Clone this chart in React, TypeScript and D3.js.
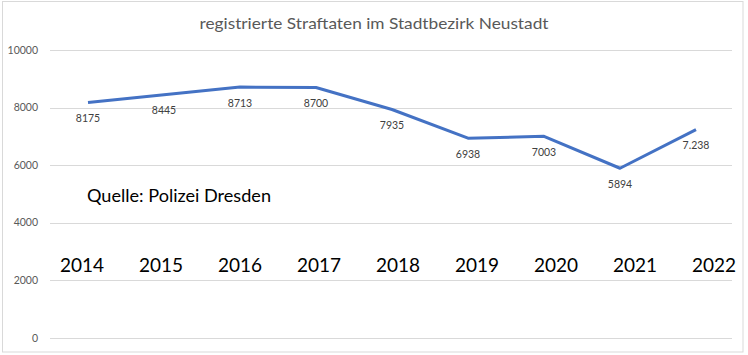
import React from "react";
import * as d3 from "d3";

const years = ["2014", "2015", "2016", "2017", "2018", "2019", "2020", "2021", "2022"];
const values = [8175, 8445, 8713, 8700, 7935, 6938, 7003, 5894, 7238];
const valueLabels = ["8175", "8445", "8713", "8700", "7935", "6938", "7003", "5894", "7.238"];
const yTicks = [0, 2000, 4000, 6000, 8000, 10000];
const title = "registrierte Straftaten im Stadtbezirk Neustadt";
const source = "Quelle: Polizei Dresden";

const W = 748;
const H = 355;
const FONT = "Lato, 'Open Sans', sans-serif";

export default function App() {
  const x = d3.scaleBand<string>().domain(years).range([50, 734]).padding(0);
  const y = d3.scaleLinear().domain([0, 10000]).range([338, 50]);
  const yearPos = d3.scalePoint<string>().domain(years).range([82, 714]);

  const cx = (d: string) => (x(d) ?? 0) + x.bandwidth() / 2;

  const line = d3
    .line<number>()
    .x((_, i) => cx(years[i]))
    .y((v) => y(v));

  return (
    <svg
      width={W}
      height={H}
      style={{ position: "absolute", left: 0, top: 0, background: "#fff" }}
    >
      <rect x={0} y={0} width={W} height={H} fill="#fff" />
      <rect x={2.5} y={1.5} width={740.5} height={350.5} fill="#fff" stroke="#d9d9d9" strokeWidth={1} />
      <text
        x={374}
        y={29}
        textAnchor="middle"
        fontFamily={FONT}
        fontSize={15}
        fill="#595959"
        textLength={349}
        lengthAdjust="spacingAndGlyphs"
      >
        {title}
      </text>
      {yTicks.map((t) => (
        <g key={t}>
          <line x1={50} x2={732} y1={Math.round(y(t)) + 0.5} y2={Math.round(y(t)) + 0.5} stroke="#d9d9d9" strokeWidth={1} />
          <text
            x={38}
            y={y(t)}
            dy="0.35em"
            textAnchor="end"
            fontFamily={FONT}
            fontSize={10.5}
            fill="#595959"
          >
            {t}
          </text>
        </g>
      ))}
      <path d={line(values) ?? ""} fill="none" stroke="#4472C4" strokeWidth={3} strokeLinejoin="round" />
      {values.map((v, i) => (
        <text
          key={years[i]}
          x={cx(years[i])}
          y={y(v) + 16}
          dy="0.35em"
          textAnchor="middle"
          fontFamily={FONT}
          fontSize={10.5}
          fill="#404040"
        >
          {valueLabels[i]}
        </text>
      ))}
      <text
        x={87}
        y={196}
        dy="0.35em"
        fontFamily={FONT}
        fontSize={17}
        fill="#000"
        textLength={184}
        lengthAdjust="spacingAndGlyphs"
      >
        {source}
      </text>
      {years.map((yr) => (
        <text
          key={yr}
          x={yearPos(yr)}
          y={265}
          dy="0.35em"
          textAnchor="middle"
          fontFamily={FONT}
          fontSize={19}
          fill="#000"
        >
          {yr}
        </text>
      ))}
    </svg>
  );
}
